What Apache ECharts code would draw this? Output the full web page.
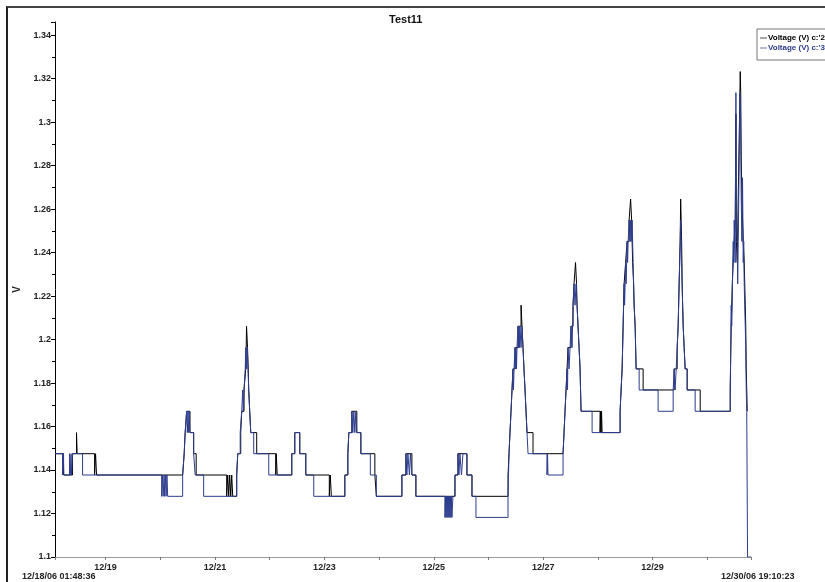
<!DOCTYPE html>
<html><head><meta charset="utf-8">
<script src="https://cdn.jsdelivr.net/npm/echarts@6/dist/echarts.min.js"></script>
<style>
html,body{margin:0;padding:0;background:#fff;}
#frame{position:absolute;left:6px;top:6px;width:840px;height:600px;border-left:2px solid #222;border-top:2px solid #444;}
#chart{position:absolute;left:0;top:0;width:825px;height:582px;}
</style>
</head><body><div id="frame"></div><div id="chart"></div>
<script>
const chartTitle = 'Test11';
const yAxisName = 'V';
const seriesNames = ["Voltage (V) c:'2", "Voltage (V) c:'3"];
const seriesColors = ['#000000', '#2d3d8e'];
const startLabel = '12/18/06 01:48:36';
const endLabel = '12/30/06 19:10:23';
// time values are day-of-month in December 2006 (fractional days)
const startDay = 18.07542;
const endDay = 30.79888;

const c2Days = [18.07542,18.232,18.396,18.469,18.480,18.799,18.817,18.835,
 20.409,20.437,20.455,20.482,20.543,20.610,20.656,21.214,21.233,21.251,21.269,21.288,21.306,21.324,
 21.397,21.416,21.471,21.489,21.531,21.562,21.571,21.577,21.595,21.608,21.617,21.635,21.654,21.763,
 22.111,22.120,22.138,22.404,22.459,22.550,22.660,23.090,23.108,23.127,23.374,23.429,23.447,23.502,23.593,23.667,23.923,23.950,
 24.417,24.490,24.600,24.673,25.387,25.442,25.606,25.698,
 26.357,26.375,26.393,26.412,26.430,26.448,26.485,26.540,26.595,26.613,26.631,26.649,26.668,26.686,26.704,26.814,
 27.363,27.381,27.399,27.418,27.436,27.454,27.509,27.546,27.564,27.591,27.610,27.619,27.637,27.656,27.674,27.683,27.692,
 28.040,28.049,28.058,28.067,28.077,28.406,28.424,28.443,28.461,28.479,28.507,28.534,28.571,28.598,28.617,28.635,28.653,28.662,28.681,28.690,28.699,28.827,
 29.394,29.449,29.467,29.485,29.504,29.513,29.531,29.540,29.559,29.577,29.595,29.632,29.870,
 30.419,30.437,30.456,30.474,30.492,30.510,30.523,30.532,30.547,30.565,30.584,30.602,30.611,30.620,30.633,30.657,30.675,30.694,30.703,30.712,30.721,30.730];
const c2Volts = [1.1475,1.1377,1.1475,1.1572,1.1475,1.1377,1.1475,1.1377,
 1.1377,1.1475,1.1572,1.1670,1.1572,1.1475,1.1377,1.1279,1.1377,1.1279,1.1377,1.1279,1.1377,1.1279,
 1.1377,1.1475,1.1572,1.1670,1.1768,1.1865,1.1963,1.2061,1.1963,1.1865,1.1768,1.1670,1.1572,1.1475,
 1.1377,1.1475,1.1377,1.1475,1.1572,1.1475,1.1377,1.1279,1.1377,1.1279,1.1377,1.1475,1.1572,1.1670,1.1572,1.1475,1.1377,1.1279,
 1.1377,1.1475,1.1377,1.1279,1.1377,1.1475,1.1377,1.1279,
 1.1377,1.1475,1.1572,1.1670,1.1768,1.1865,1.1963,1.2061,1.2158,1.2061,1.1963,1.1865,1.1768,1.1670,1.1572,1.1475,
 1.1475,1.1572,1.1670,1.1768,1.1865,1.1963,1.2061,1.2158,1.2256,1.2354,1.2256,1.2158,1.2061,1.1963,1.1865,1.1768,1.1670,
 1.1572,1.1670,1.1572,1.1670,1.1572,1.1670,1.1768,1.1865,1.2061,1.2256,1.2354,1.2451,1.2549,1.2646,1.2549,1.2354,1.2256,1.2158,1.2061,1.1963,1.1865,1.1768,
 1.1865,1.1963,1.2061,1.2256,1.2451,1.2646,1.2451,1.2256,1.2061,1.1963,1.1865,1.1768,1.1670,
 1.1768,1.2061,1.2256,1.2354,1.2451,1.2549,1.3037,1.2451,1.2354,1.2646,1.2939,1.3232,1.3135,1.2842,1.2646,1.2451,1.2354,1.2158,1.2061,1.1865,1.1768,1.1670];

const c3Days = [18.07542,18.213,18.228,18.237,18.341,18.356,18.369,18.378,18.396,18.579,
 20.025,20.043,20.052,20.071,20.080,20.098,20.107,20.122,20.135,
 20.409,20.437,20.455,20.482,20.495,20.506,20.519,20.528,20.543,20.610,20.638,20.793,
 21.397,21.416,21.461,21.489,21.507,21.518,21.531,21.553,21.562,21.580,21.589,21.604,21.617,21.635,21.654,21.708,21.983,
 22.404,22.459,22.550,22.660,22.806,23.374,23.429,23.447,23.502,23.520,23.538,23.557,23.575,23.593,23.667,23.840,23.950,
 24.417,24.490,24.508,24.527,24.554,24.572,24.600,24.673,
 25.204,25.213,25.222,25.231,25.240,25.249,25.259,25.268,25.277,25.286,25.295,25.304,25.314,25.323,25.332,25.350,
 25.387,25.442,25.460,25.478,25.506,25.533,25.606,25.698,25.771,
 26.357,26.366,26.375,26.393,26.412,26.430,26.448,26.457,26.467,26.485,26.494,26.503,26.512,26.521,26.540,26.549,26.558,26.567,26.576,26.595,26.613,26.631,26.649,26.668,26.686,26.704,26.723,
 27.070,27.079,27.088,27.363,27.381,27.399,27.418,27.436,27.445,27.454,27.473,27.491,27.509,27.528,27.546,27.564,27.582,27.601,27.619,27.637,27.656,27.674,27.683,27.692,27.894,
 28.406,28.424,28.443,28.452,28.461,28.470,28.479,28.488,28.498,28.507,28.516,28.525,28.534,28.543,28.553,28.571,28.589,28.598,28.607,28.626,28.644,28.653,28.662,28.681,28.690,28.699,28.754,
 29.101,29.376,29.394,29.412,29.431,29.449,29.467,29.476,29.485,29.495,29.504,29.513,29.522,29.531,29.540,29.549,29.559,29.577,29.595,29.632,29.778,
 30.419,30.428,30.437,30.446,30.456,30.465,30.474,30.483,30.492,30.501,30.510,30.523,30.532,30.547,30.556,30.565,30.584,30.596,30.608,30.620,30.633,30.644,30.657,30.666,30.675,30.684,30.694,30.703,30.712,30.721,30.736,30.79888];
const c3Volts = [1.1475,1.1377,1.1475,1.1377,1.1475,1.1377,1.1475,1.1377,1.1475,1.1377,
 1.1279,1.1377,1.1279,1.1377,1.1279,1.1377,1.1279,1.1377,1.1279,
 1.1377,1.1475,1.1572,1.1670,1.1572,1.1670,1.1572,1.1670,1.1572,1.1475,1.1377,1.1279,
 1.1377,1.1475,1.1572,1.1670,1.1768,1.1670,1.1768,1.1865,1.1963,1.1865,1.1963,1.1865,1.1768,1.1670,1.1572,1.1475,1.1377,
 1.1475,1.1572,1.1475,1.1377,1.1279,1.1377,1.1475,1.1572,1.1670,1.1572,1.1670,1.1572,1.1670,1.1572,1.1475,1.1377,1.1279,
 1.1377,1.1475,1.1377,1.1475,1.1377,1.1475,1.1377,1.1279,
 1.1182,1.1279,1.1182,1.1279,1.1182,1.1279,1.1182,1.1279,1.1182,1.1279,1.1182,1.1279,1.1182,1.1279,1.1182,1.1279,
 1.1377,1.1475,1.1377,1.1475,1.1377,1.1475,1.1377,1.1279,1.1182,
 1.1279,1.1377,1.1475,1.1572,1.1670,1.1768,1.1865,1.1768,1.1865,1.1963,1.1865,1.1963,1.1865,1.1963,1.2061,1.1963,1.2061,1.1963,1.2061,1.1963,1.2061,1.1963,1.1865,1.1768,1.1670,1.1572,1.1475,
 1.1377,1.1475,1.1377,1.1475,1.1572,1.1670,1.1768,1.1865,1.1768,1.1963,1.1865,1.1963,1.2061,1.1963,1.2158,1.2256,1.2158,1.2256,1.2158,1.2061,1.1963,1.1865,1.1768,1.1670,1.1572,
 1.1670,1.1768,1.1865,1.1963,1.2061,1.2158,1.2256,1.2158,1.2256,1.2354,1.2256,1.2354,1.2451,1.2354,1.2451,1.2549,1.2451,1.2549,1.2451,1.2549,1.2354,1.2256,1.2158,1.2061,1.1963,1.1865,1.1768,
 1.1670,1.1768,1.1865,1.1768,1.1865,1.1963,1.2061,1.2158,1.2256,1.2354,1.2451,1.2549,1.2451,1.2354,1.2256,1.2158,1.2061,1.1963,1.1865,1.1768,1.1670,
 1.1768,1.1963,1.2158,1.2061,1.2158,1.2354,1.2451,1.2354,1.2549,1.2451,1.2354,1.3135,1.2549,1.2451,1.2256,1.2451,1.2842,1.3135,1.3037,1.2646,1.2451,1.2744,1.2354,1.2451,1.2256,1.2158,1.2061,1.1963,1.1768,1.1670,1.1000,1.1000];

const yMin = 1.10, yMax = 1.346, yStep = 0.02;

function dayToTime(d) {
  return new Date(2006, 11, 1).getTime() + (d - 1) * 86400000;
}
function pairs(days, volts) {
  return days.map((d, i) => [dayToTime(d), volts[i]]);
}
const font = 'Liberation Sans, Arial, sans-serif';
const chart = echarts.init(document.getElementById('chart'), null, {renderer: 'canvas'});
chart.setOption({
  animation: false,
  backgroundColor: 'transparent',
  title: {
    text: chartTitle, left: 384, top: 9,
    textStyle: {fontSize: 11, fontWeight: 'bold', color: '#111', fontFamily: font}
  },
  legend: {
    orient: 'vertical', left: 757, top: 29,
    borderColor: '#777', borderWidth: 1, padding: [5, 20, 8, 3],
    itemGap: 2, itemWidth: 7, itemHeight: 1,
    icon: 'path://M0 0H10V1H0Z',
    textStyle: {fontSize: 8, fontWeight: 'bold', fontFamily: font, padding: [0, 0, 0, -4]},
    data: [
      {name: seriesNames[0], textStyle: {color: seriesColors[0]}},
      {name: seriesNames[1], textStyle: {color: seriesColors[1]}}
    ]
  },
  grid: {left: 55, right: 74, top: 22, bottom: 25, containLabel: false},
  xAxis: {
    type: 'time',
    min: dayToTime(startDay), max: dayToTime(endDay),
    minInterval: 86400000, maxInterval: 86400000,
    axisLine: {lineStyle: {color: '#9a9a9a', width: 1}},
    axisTick: {show: true, length: 3, lineStyle: {color: '#777'}},
    splitLine: {show: false},
    axisLabel: {
      fontSize: 9, fontWeight: 'bold', color: '#222', fontFamily: font, margin: 6,
      showMinLabel: true, showMaxLabel: true, hideOverlap: false,
      formatter: function (val) {
        const d = new Date(val);
        if (d.getHours() || d.getMinutes() || d.getSeconds()) return '';
        if (d.getDate() % 2 === 0) return '';
        const mm = String(d.getMonth() + 1).padStart(2, '0');
        const dd = String(d.getDate()).padStart(2, '0');
        return mm + '/' + dd;
      }
    }
  },
  yAxis: {
    type: 'value', min: yMin, max: yMax, interval: yStep,
    name: yAxisName, nameLocation: 'middle', nameGap: 32, nameRotate: 90,
    nameTextStyle: {fontSize: 10, fontWeight: 'bold', color: '#222', fontFamily: font},
    axisLine: {show: true, lineStyle: {color: '#000', width: 1}},
    axisTick: {show: true, length: 4, lineStyle: {color: '#000'}},
    minorTick: {show: true, splitNumber: 2, length: 3, lineStyle: {color: '#000'}},
    splitLine: {show: false},
    axisLabel: {
      fontSize: 9, fontWeight: 'bold', color: '#222', fontFamily: font, margin: 4,
      formatter: function (v) {
        const k = v / yStep;
        if (Math.abs(k - Math.round(k)) > 1e-6) return '';
        return String(+v.toFixed(2));
      }
    }
  },
  graphic: [
    {type: 'text', left: 22, top: 572, style: {text: startLabel, font: 'bold 9px ' + font, fill: '#222'}},
    {type: 'text', left: 721, top: 572, style: {text: endLabel, font: 'bold 9px ' + font, fill: '#222'}}
  ],
  series: [
    {name: seriesNames[0], type: 'line', step: 'end', showSymbol: false, symbol: 'none',
     color: seriesColors[0], lineStyle: {width: 1, color: seriesColors[0]},
     data: pairs(c2Days, c2Volts)},
    {name: seriesNames[1], type: 'line', step: 'end', showSymbol: false, symbol: 'none',
     color: seriesColors[1], lineStyle: {width: 1, color: seriesColors[1]},
     data: pairs(c3Days, c3Volts)}
  ]
});
</script>
</body></html>
